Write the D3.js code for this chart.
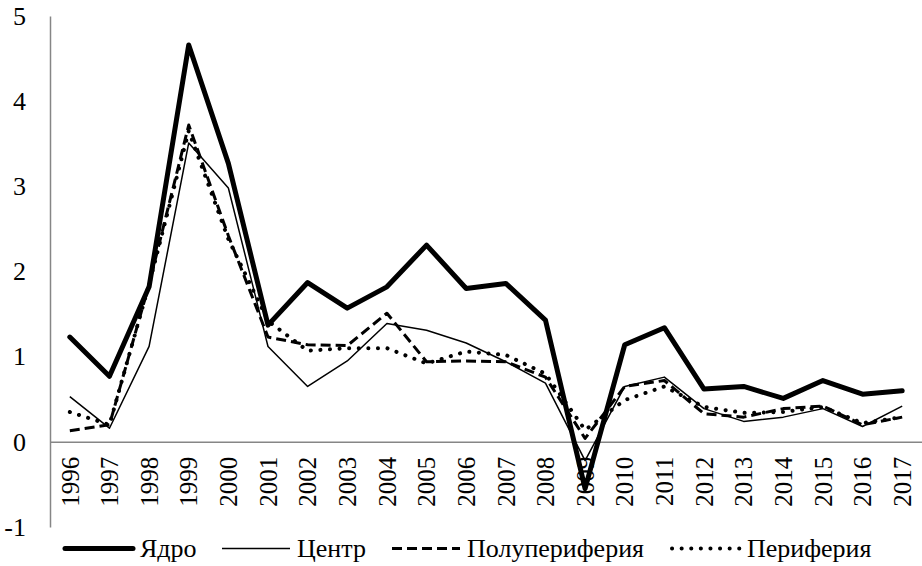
<!DOCTYPE html>
<html>
<head>
<meta charset="utf-8">
<script src="https://cdn.jsdelivr.net/npm/d3@7"></script>
<style>
  html, body { margin: 0; padding: 0; background: #fff; }
  svg { display: block; }
</style>
</head>
<body>
<svg id="chart" width="922" height="566"></svg>
<script>
const years = ["1996","1997","1998","1999","2000","2001","2002","2003","2004","2005","2006","2007","2008","2009","2010","2011","2012","2013","2014","2015","2016","2017"];
const yTicks = [-1, 0, 1, 2, 3, 4, 5];
const seriesNames = ["Ядро", "Центр", "Полупериферия", "Периферия"];
const core      = [1.23, 0.77, 1.82, 4.66, 3.27, 1.37, 1.87, 1.57, 1.82, 2.31, 1.80, 1.86, 1.43, -0.55, 1.14, 1.34, 0.62, 0.65, 0.51, 0.72, 0.56, 0.60];
const center    = [0.53, 0.16, 1.12, 3.51, 2.98, 1.12, 0.65, 0.95, 1.39, 1.31, 1.16, 0.94, 0.69, -0.22, 0.65, 0.76, 0.39, 0.24, 0.29, 0.39, 0.18, 0.42];
const semiPeriphery = [0.13, 0.20, 1.85, 3.72, 2.42, 1.23, 1.14, 1.13, 1.51, 0.94, 0.95, 0.94, 0.76, 0.04, 0.65, 0.72, 0.33, 0.29, 0.39, 0.42, 0.20, 0.29];
const periphery = [0.35, 0.20, 1.85, 3.65, 2.38, 1.42, 1.07, 1.10, 1.10, 0.92, 1.06, 1.02, 0.80, 0.14, 0.49, 0.65, 0.41, 0.34, 0.35, 0.41, 0.22, 0.29];

const seriesData = [core, center, semiPeriphery, periphery];
const styles = [
  { width: 5, dash: null, cap: "round" },
  { width: 1.5, dash: null, cap: "butt" },
  { width: 3, dash: "10,5", cap: "butt" },
  { width: 4, dash: "0.1,9.5", cap: "round" }
];

// pick an installed serif font (Times-like)
function pickSerif() {
  const cands = ["Liberation Serif", "Times New Roman", "Tinos", "DejaVu Serif", "Noto Serif", "FreeSerif", "Nimbus Roman", "Times"];
  const c = document.createElement("canvas").getContext("2d");
  const sample = "Периферия 1996 Ядро";
  const widthOf = f => { c.font = "40px " + f; return c.measureText(sample).width; };
  const baseM = widthOf("monospace"), baseS = widthOf("sans-serif");
  for (const f of cands) {
    const q = '"' + f + '"';
    if (widthOf(q + ", monospace") !== baseM || widthOf(q + ", sans-serif") !== baseS) return q + ", serif";
  }
  return "serif";
}
const fontStack = pickSerif();

const svg = d3.select("#chart");
const mLeft = 50, mRight = 922, mTop = 16, mBottom = 527;

const x = d3.scaleBand().domain(years).range([mLeft, mRight]).padding(0);
const y = d3.scaleLinear().domain([-1, 5]).range([mBottom, mTop]);

const axisColor = "#868686";

// Y axis
const yAxis = d3.axisLeft(y).tickValues(yTicks).tickSize(0).tickPadding(24).tickFormat(d => String(d));
const gy = svg.append("g").attr("transform", `translate(${mLeft},0)`).call(yAxis);
gy.attr("font-family", fontStack);
gy.select(".domain").attr("stroke", axisColor).attr("stroke-width", 1.5);
gy.selectAll("text").attr("font-size", 26).attr("fill", "#000");

// X axis at zero
const xAxis = d3.axisBottom(x).tickSize(0).tickPadding(0);
const gx = svg.append("g").attr("transform", `translate(0,${y(0)})`).call(xAxis);
gx.attr("font-family", fontStack);
gx.select(".domain").attr("stroke", axisColor).attr("stroke-width", 1.5);
gx.selectAll("text")
  .attr("font-size", 25)
  .attr("fill", "#000")
  .attr("text-anchor", "end")
  .attr("transform", "rotate(-90)")
  .attr("x", -15)
  .attr("y", 0)
  .attr("dy", "0.35em");

// Lines
const line = d3.line()
  .x((d, i) => x(years[i]) + x.bandwidth() / 2)
  .y(d => y(d));

const order = [3, 2, 1, 0];
order.forEach(k => {
  const st = styles[k];
  svg.append("path")
    .datum(seriesData[k])
    .attr("fill", "none")
    .attr("stroke", "#000")
    .attr("stroke-width", st.width)
    .attr("stroke-linejoin", "round")
    .attr("stroke-linecap", st.cap)
    .attr("stroke-dasharray", st.dash)
    .attr("d", line);
});

// Legend
const legend = svg.append("g").attr("font-family", fontStack);
const legendX = [65, 222, 392, 672];
const ly = 548.5;
seriesNames.forEach((name, k) => {
  const st = styles[k];
  const lx = legendX[k];
  legend.append("line")
    .attr("x1", lx).attr("x2", lx + 68)
    .attr("y1", ly).attr("y2", ly)
    .attr("stroke", "#000")
    .attr("stroke-width", st.width)
    .attr("stroke-linecap", st.cap)
    .attr("stroke-dasharray", st.dash);
  legend.append("text")
    .attr("x", lx + 68 + 7)
    .attr("y", 557)
    .attr("font-size", 26)
    .attr("fill", "#000")
    .text(name);
});
</script>
</body>
</html>
